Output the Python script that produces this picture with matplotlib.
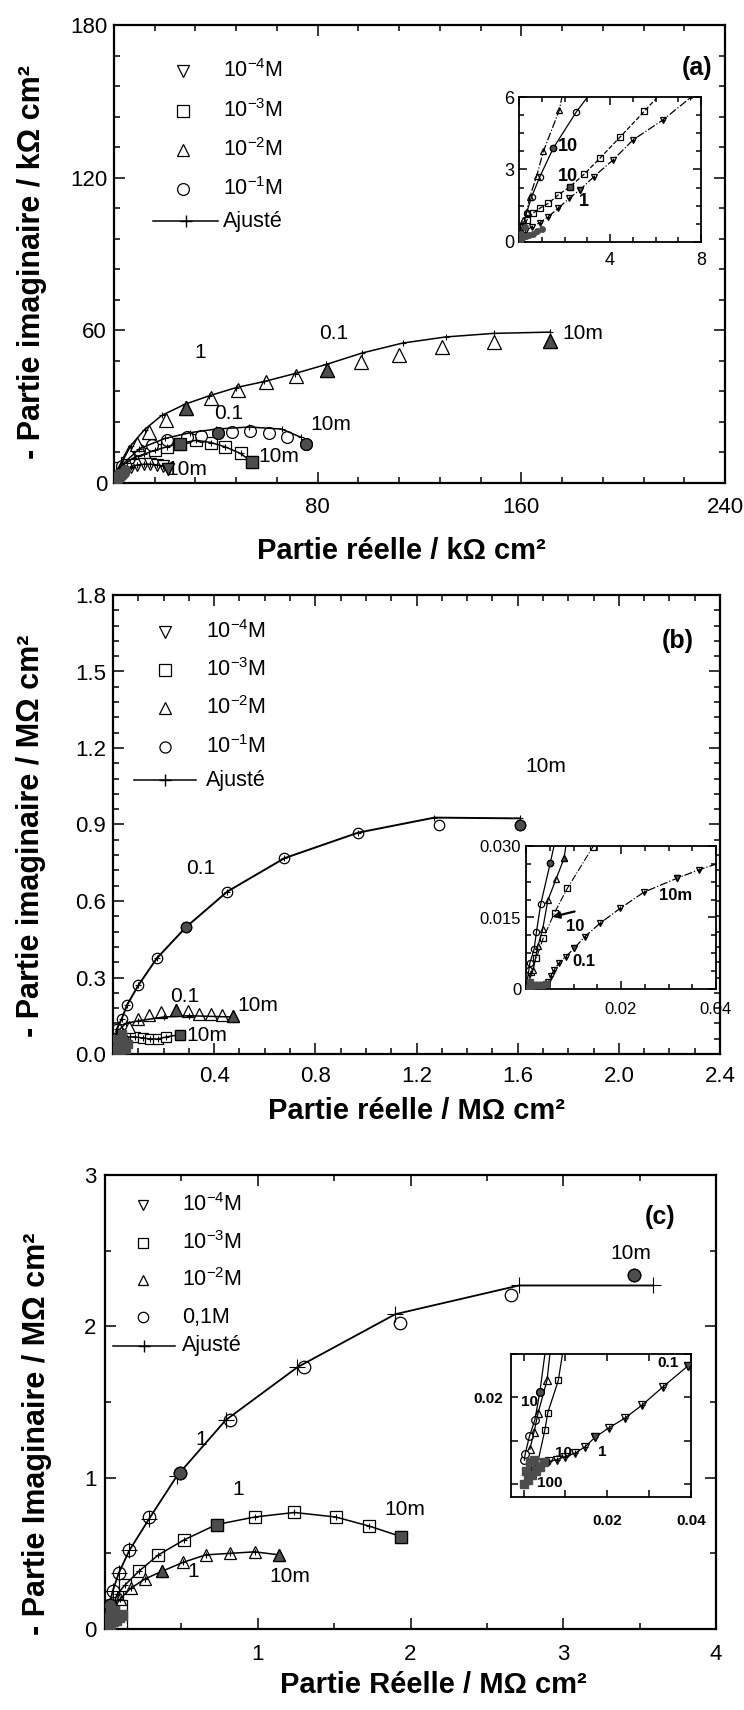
import matplotlib.pyplot as plt
import matplotlib.lines as mlines
import matplotlib.patches as patches
from matplotlib.ticker import MultipleLocator, FixedLocator

plt.rcParams['font.family'] = ['Liberation Sans', 'DejaVu Sans']
plt.rcParams['mathtext.default'] = 'regular'

W, H = 744, 1710
DARK = '0.3'

legend_labels = ['10$^{-4}$M', '10$^{-3}$M', '10$^{-2}$M', '10$^{-1}$M', 'Ajusté']
legend_labels_c = ['10$^{-4}$M', '10$^{-3}$M', '10$^{-2}$M', '0,1M', 'Ajusté']

# ---------------- panel (a) : kOhm cm2 ----------------
a_tri_x = [0.8, 2.7, 4.6, 5.9, 9.2, 13.7, 20.4, 28.2, 38.1, 48.8, 59.8, 71.4, 83.5, 97.2, 111.9, 128.7, 149.4, 171.2]
a_tri_y = [2.8, 6.0, 8.7, 12.0, 15.3, 19.9, 24.7, 29.5, 33.3, 36.6, 39.6, 42.2, 44.6, 47.5, 50.4, 53.5, 55.5, 56.0]
a_tri_filled = [7, 12, 17]
a_tri_fit_x = [0, 2, 6.6, 12, 18.8, 28, 37.5, 48, 59.1, 71, 83.4, 97.5, 113.4, 130.3, 149.1, 171.2]
a_tri_fit_y = [0, 6, 14.7, 21, 26.6, 31, 34.3, 37.5, 39.9, 43, 46.6, 51.1, 55.0, 57.4, 58.8, 59.3]

a_cir_x = [1.0, 3.0, 6.0, 10.0, 15.0, 21.0, 28.5, 34.3, 40.7, 46.5, 53.6, 60.7, 67.8, 75.5]
a_cir_y = [2.5, 6.5, 10.0, 12.8, 15.0, 16.8, 17.9, 18.6, 19.5, 20.1, 20.3, 19.5, 17.9, 15.3]
a_cir_filled = [8, 13]
a_cir_fit_x = [0, 3, 10, 20, 30, 40.1, 53, 65.9, 73.6]
a_cir_fit_y = [0, 7, 13.5, 17.5, 19.8, 21.2, 22.0, 21.2, 17.9]

a_sq_x = [2.1, 5.0, 7.9, 11.7, 16.2, 20.7, 25.9, 32.3, 38.1, 43.7, 49.7, 54.2]
a_sq_y = [6.0, 8.0, 10.0, 11.3, 12.9, 14.2, 15.5, 16.8, 15.9, 14.2, 11.6, 8.3]
a_sq_filled = [6, 11]

a_dtri_x = [1.4, 4.0, 6.6, 9.2, 11.8, 14.3, 16.9, 19.4, 21.4]
a_dtri_y = [2.1, 4.7, 6.4, 7.1, 7.4, 7.4, 7.1, 6.7, 5.4]
a_dtri_filled = [8]

a_dark_x = [0.3, 0.8, 1.5, 2.2, 3.0, 3.8, 0.5, 1.2, 2.0, 4.5]
a_dark_y = [0.2, 0.8, 1.5, 2.5, 3.2, 4.0, 1.0, 2.0, 3.5, 5.0]

# inset (a)
ai_tri_x = [0.19, 0.34, 0.48, 0.78, 1.07, 1.77]
ai_tri_y = [0.91, 1.26, 1.88, 2.74, 3.75, 5.45]
ai_tri_fit_x = [0, 0.19, 0.34, 0.48, 0.78, 1.07, 1.77, 1.88]
ai_tri_fit_y = [0, 0.91, 1.26, 1.88, 2.74, 3.75, 5.45, 5.96]
ai_cir_x = [0.33, 0.55, 0.92, 1.51, 2.51]
ai_cir_y = [1.2, 1.86, 2.71, 3.89, 5.37]
ai_cir_filled = [3]
ai_cir_fit_x = [0, 0.33, 0.55, 0.92, 1.51, 2.51, 2.98]
ai_cir_fit_y = [0, 1.2, 1.86, 2.71, 3.89, 5.37, 5.96]
ai_sq_x = [0.18, 0.34, 0.63, 0.92, 1.29, 1.73, 2.24, 2.87, 3.56, 4.44, 5.51]
ai_sq_y = [0.6, 0.9, 1.2, 1.4, 1.6, 1.95, 2.29, 2.81, 3.47, 4.34, 5.41]
ai_sq_filled = [6]
ai_sq_fit_x = [0] + ai_sq_x + [6.05]
ai_sq_fit_y = [0] + ai_sq_y + [5.96]
ai_dtri_x = [0.26, 0.55, 0.92, 1.29, 1.73, 2.21, 2.68, 3.30, 4.14, 5.02, 6.34]
ai_dtri_y = [0.42, 0.63, 0.80, 1.05, 1.40, 1.81, 2.16, 2.71, 3.40, 4.23, 5.06]
ai_dtri_filled = [6]
ai_dtri_fit_x = [0] + ai_dtri_x + [7.52]
ai_dtri_fit_y = [0] + ai_dtri_y + [5.96]
ai_dark_x = [0.05, 0.15, 0.3, 0.45, 0.6, 0.8, 1.0, 0.1, 0.25]
ai_dark_y = [0.05, 0.15, 0.25, 0.3, 0.35, 0.45, 0.55, 0.35, 0.6]

# ---------------- panel (b) : MOhm cm2 ----------------
b_cir_x = [0.015, 0.034, 0.056, 0.100, 0.173, 0.288, 0.452, 0.678, 0.969, 1.289, 1.609]
b_cir_y = [0.098, 0.137, 0.193, 0.269, 0.375, 0.497, 0.637, 0.768, 0.868, 0.899, 0.899]
b_cir_filled = [5, 10]
b_cir_fit_x = [0.0, 0.015, 0.034, 0.056, 0.100, 0.173, 0.288, 0.452, 0.678, 0.969, 1.271, 1.609]
b_cir_fit_y = [0.0, 0.098, 0.137, 0.193, 0.269, 0.375, 0.497, 0.637, 0.768, 0.868, 0.927, 0.924]

b_tri_x = [0.02, 0.04, 0.064, 0.099, 0.143, 0.191, 0.248, 0.296, 0.342, 0.387, 0.430, 0.473]
b_tri_y = [0.04, 0.08, 0.106, 0.136, 0.152, 0.165, 0.171, 0.167, 0.158, 0.155, 0.152, 0.149]
b_tri_filled = [6, 11]
b_tri_fit_x = [0, 0.02, 0.05, 0.1, 0.2, 0.3, 0.48]
b_tri_fit_y = [0, 0.09, 0.12, 0.13, 0.145, 0.15, 0.145]

b_sq_x = [0.008, 0.027, 0.053, 0.086, 0.119, 0.145, 0.178, 0.211, 0.264]
b_sq_y = [0.067, 0.063, 0.067, 0.067, 0.063, 0.059, 0.059, 0.067, 0.076]
b_sq_filled = [8]

b_dtri_x = [0.002, 0.006, 0.012, 0.02]
b_dtri_y = [0.002, 0.004, 0.007, 0.012]
b_dark_x = [0.005, 0.01, 0.02, 0.03, 0.04, 0.05, 0.06, 0.015, 0.035]
b_dark_y = [0.01, 0.02, 0.03, 0.015, 0.05, 0.02, 0.04, 0.06, 0.08]

# inset (b)
bi_dtri_x = [0.0005, 0.0015, 0.0025, 0.0035, 0.0045, 0.0047, 0.0052, 0.0059, 0.0069, 0.0084, 0.0101,
             0.0124, 0.0156, 0.0198, 0.0248, 0.0317, 0.0364]
bi_dtri_y = [0.0008, 0.0008, 0.0008, 0.0008, 0.0009, 0.0015, 0.0027, 0.0040, 0.0054, 0.0068, 0.0085,
             0.0110, 0.0138, 0.0169, 0.0203, 0.0232, 0.0250]
bi_dtri_filled = [10, 15]
bi_dtri_fit_x = bi_dtri_x + [0.040]
bi_dtri_fit_y = bi_dtri_y + [0.0262]
bi_cir_x = [0.0006, 0.0008, 0.0017, 0.0022, 0.0031, 0.0051]
bi_cir_y = [0.004, 0.0054, 0.0083, 0.012, 0.0178, 0.0264]
bi_cir_filled = [5]
bi_cir_fit_x = [0] + bi_cir_x + [0.0059]
bi_cir_fit_y = [0] + bi_cir_y + [0.030]
bi_tri_x = [0.0015, 0.0025, 0.0035, 0.0046, 0.0063, 0.0080]
bi_tri_y = [0.004, 0.009, 0.0125, 0.0186, 0.023, 0.0274]
bi_tri_filled = [5]
bi_tri_fit_x = [0] + bi_tri_x + [0.0084]
bi_tri_fit_y = [0] + bi_tri_y + [0.030]
bi_sq_x = [0.0010, 0.0022, 0.0036, 0.0060, 0.0087, 0.0140]
bi_sq_y = [0.0035, 0.0065, 0.0106, 0.016, 0.0211, 0.0297]
bi_sq_fit_x = [0] + bi_sq_x + [0.0142]
bi_sq_fit_y = [0] + bi_sq_y + [0.030]
bi_dark_x = [0.0003, 0.001, 0.0018, 0.0026, 0.0034, 0.0042, 0.0008]
bi_dark_y = [0.0003, 0.0007, 0.0008, 0.0008, 0.0009, 0.0010, 0.0015]

# ---------------- panel (c) : MOhm cm2 ----------------
c_cir_x = [0.03, 0.05, 0.09, 0.16, 0.29, 0.49, 0.82, 1.30, 1.93, 2.66, 3.46]
c_cir_y = [0.16, 0.25, 0.37, 0.52, 0.74, 1.03, 1.38, 1.73, 2.02, 2.21, 2.34]
c_cir_filled = [0, 5, 10]
c_cir_fit_x = [0, 0.03, 0.05, 0.09, 0.16, 0.29, 0.47, 0.79, 1.26, 1.90, 2.71, 3.59]
c_cir_fit_y = [0, 0.16, 0.25, 0.37, 0.52, 0.73, 1.01, 1.38, 1.73, 2.08, 2.27, 2.27]

c_sq_x = [0.05, 0.08, 0.13, 0.22, 0.35, 0.52, 0.73, 0.98, 1.24, 1.51, 1.73, 1.94]
c_sq_y = [0.14, 0.23, 0.29, 0.38, 0.49, 0.59, 0.69, 0.74, 0.77, 0.74, 0.68, 0.61]
c_sq_filled = [6, 11]

c_tri_x = [0.06, 0.10, 0.17, 0.26, 0.37, 0.51, 0.66, 0.82, 0.98, 1.14]
c_tri_y = [0.14, 0.20, 0.27, 0.33, 0.38, 0.44, 0.49, 0.50, 0.51, 0.49]
c_tri_filled = [4, 9]

c_dark_x = [0.01, 0.03, 0.05, 0.07, 0.09, 0.02, 0.04, 0.06, 0.11]
c_dark_y = [0.01, 0.03, 0.05, 0.06, 0.08, 0.07, 0.10, 0.12, 0.09]

# inset (c)
ci_dtri_x = [0.002, 0.004, 0.006, 0.0079, 0.0099, 0.0123, 0.0147, 0.0171, 0.0203, 0.0242, 0.0283, 0.0334, 0.0392]
ci_dtri_y = [0.0045, 0.0048, 0.0052, 0.0056, 0.0063, 0.0071, 0.0086, 0.0108, 0.0129, 0.0152, 0.0182, 0.0225, 0.0272]
ci_dtri_filled = [7, 12]
ci_cir_x = [0.0002, 0.0004, 0.0014, 0.0027, 0.0039]
ci_cir_y = [0.0055, 0.007, 0.011, 0.0148, 0.0213]
ci_cir_filled = [4]
ci_cir_fit_x = ci_cir_x + [0.0051]
ci_cir_fit_y = ci_cir_y + [0.030]
ci_tri_x = [0.0015, 0.0025, 0.0035, 0.0056]
ci_tri_y = [0.008, 0.012, 0.0165, 0.0239]
ci_tri_fit_x = ci_tri_x + [0.0063]
ci_tri_fit_y = ci_tri_y + [0.030]
ci_sq_x = [0.0025, 0.0034, 0.0051, 0.0058, 0.0083]
ci_sq_y = [0.003, 0.005, 0.0125, 0.0165, 0.0239]
ci_sq_fit_x = ci_sq_x + [0.0093]
ci_sq_fit_y = ci_sq_y + [0.030]
ci_dark_x = [0.0, 0.001, 0.002, 0.003, 0.004, 0.005, 0.0005, 0.0015, 0.0025]
ci_dark_y = [0.0, 0.001, 0.002, 0.003, 0.004, 0.005, 0.003, 0.005, 0.0055]


def fpx(x, y):
    # figure pixel (from top-left) -> figure fraction
    return x / W, 1 - y / H


def series(ax, x, y, marker, ms, filled=(), fit_x=None, fit_y=None, ls='-', fit_ms=6, lw=1.1):
    ax.plot(x, y, ls='none', marker=marker, ms=ms, mfc='white', mec='k', mew=0.9, zorder=2)
    if fit_x is not None:
        ax.plot(fit_x, fit_y, color='k', lw=lw, ls=ls, marker='+', ms=fit_ms, mew=0.8, zorder=3)
    if filled:
        ax.plot([x[i] for i in filled], [y[i] for i in filled], ls='none', marker=marker, ms=ms,
                mfc=DARK, mec='k', mew=0.9, zorder=4)


def dark(ax, x, y, marker, ms):
    ax.plot(x, y, ls='none', marker=marker, ms=ms, mfc=DARK, mec=DARK, zorder=4)


def style(ax, xmaj, xmin, ymaj, ymin, size=16, lw=1.6, maj=8, mino=4.5, xpad=3.5, ypad=3.5):
    ax.xaxis.set_major_locator(xmaj)
    ax.xaxis.set_minor_locator(MultipleLocator(xmin))
    ax.yaxis.set_major_locator(ymaj)
    ax.yaxis.set_minor_locator(MultipleLocator(ymin))
    ax.tick_params(which='both', direction='in', top=True, right=True, labelsize=size, width=1.1)
    ax.tick_params(which='major', length=maj)
    ax.tick_params(which='minor', length=mino)
    ax.tick_params(axis='x', pad=xpad)
    ax.tick_params(axis='y', pad=ypad)
    for s in ax.spines.values():
        s.set_linewidth(lw)


def legend(fig, rows_y, mark_x, text_x, aj_y, line_x0, line_x1, markers, labels, ms):
    for yy, m, lab in zip(rows_y, markers, labels[:4]):
        mx, my = fpx(mark_x, yy)
        fig.add_artist(mlines.Line2D([mx], [my], marker=m, ms=ms, mfc='white', mec='k', mew=0.9,
                                     ls='none', transform=fig.transFigure))
        tx, ty = fpx(text_x, yy)
        fig.text(tx, ty, lab, fontsize=15.5, va='center', ha='left')
    x0, yl = fpx(line_x0, aj_y)
    x1, _ = fpx(line_x1, aj_y)
    xm = (x0 + x1) / 2
    fig.add_artist(mlines.Line2D([x0, x1], [yl, yl], color='k', lw=1.1, transform=fig.transFigure))
    fig.add_artist(mlines.Line2D([xm], [yl], marker='+', ms=8, mew=1, color='k', transform=fig.transFigure))
    tx, ty = fpx(text_x, aj_y)
    fig.text(tx, ty, labels[4], fontsize=15.5, va='center', ha='left')


YLAB = 22
XLAB = 21

fig = plt.figure(figsize=(W / 100, H / 100), dpi=100)

# ================= (a) =================
ax = fig.add_axes([114 / W, 1 - 483 / H, 611 / W, 458 / H])
series(ax, a_sq_x, a_sq_y, 's', 8.5, a_sq_filled, a_sq_x, a_sq_y, fit_ms=4)
series(ax, a_dtri_x, a_dtri_y, 'v', 8.5, a_dtri_filled, a_dtri_x, a_dtri_y, fit_ms=4)
series(ax, a_cir_x, a_cir_y, 'o', 8.5, a_cir_filled, a_cir_fit_x, a_cir_fit_y, fit_ms=4)
series(ax, a_tri_x, a_tri_y, '^', 10, a_tri_filled, a_tri_fit_x, a_tri_fit_y, fit_ms=5)
dark(ax, a_dark_x, a_dark_y, 'o', 7)
ax.set_xlim(0, 240)
ax.set_ylim(0, 180)
style(ax, FixedLocator([0, 80, 160, 240]), 16, MultipleLocator(60), 12, xpad=10, ypad=5)
ax.set_xticklabels(['', '80', '160', '240'])
ax.text(33.8, 51.1, '1', fontsize=15, ha='center', va='center')
ax.text(86.3, 58.8, '0.1', fontsize=15, ha='center', va='center')
ax.text(176, 58.8, '10m', fontsize=15, ha='left', va='center')
ax.text(45, 27.3, '0.1', fontsize=15, ha='center', va='center')
ax.text(77, 23.1, '10m', fontsize=15, ha='left', va='center')
ax.text(56.8, 10.5, '10m', fontsize=15, ha='left', va='center')
ax.text(20.6, 5.2, '10m', fontsize=15, ha='left', va='center')
ax.set_ylabel('- Partie imaginaire / kΩ cm²', fontsize=YLAB, fontweight='bold')
ax.yaxis.set_label_coords(-0.11, 0.483)
ax.set_xlabel('Partie réelle / kΩ cm²', fontsize=XLAB, fontweight='bold')
ax.xaxis.set_label_coords(0.47, -0.118)
fig.text(*fpx(697, 68), '(a)', fontsize=18, fontweight='bold', ha='center', va='center')
legend(fig, [71, 111, 150, 189], 183, 223, 221, 153, 218, ['v', 's', '^', 'o'], legend_labels, 8.5)

axi = fig.add_axes([519 / W, 1 - 242 / H, 182 / W, 145 / H])
series(axi, ai_sq_x, ai_sq_y, 's', 4.5, ai_sq_filled, ai_sq_fit_x, ai_sq_fit_y, ls='--', fit_ms=0, lw=0.9)
series(axi, ai_dtri_x, ai_dtri_y, 'v', 5, ai_dtri_filled, ai_dtri_fit_x, ai_dtri_fit_y, ls='-.', fit_ms=3, lw=0.9)
series(axi, ai_cir_x, ai_cir_y, 'o', 4.5, ai_cir_filled, ai_cir_fit_x, ai_cir_fit_y, fit_ms=0, lw=0.9)
series(axi, ai_tri_x, ai_tri_y, '^', 5, (), ai_tri_fit_x, ai_tri_fit_y, ls='-.', fit_ms=0, lw=0.9)
dark(axi, ai_dark_x, ai_dark_y, 'o', 4)
axi.set_xlim(0, 8)
axi.set_ylim(0, 6)
style(axi, FixedLocator([0, 4, 8]), 1, MultipleLocator(3), 0.75, size=13, lw=1.3, maj=6, mino=3.5, xpad=7)
axi.set_xticklabels(['', '4', '8'])
axi.text(1.71, 3.96, '10', fontsize=13, fontweight='bold', ha='left', va='center')
axi.text(1.71, 2.72, '10', fontsize=13, fontweight='bold', ha='left', va='center')
axi.text(2.87, 1.67, '1', fontsize=13, fontweight='bold', ha='center', va='center')

# ================= (b) =================
ax = fig.add_axes([113 / W, 1 - 1054 / H, 607 / W, 459 / H])
series(ax, b_sq_x, b_sq_y, 's', 7, b_sq_filled, b_sq_x, b_sq_y, fit_ms=4)
series(ax, b_tri_x, b_tri_y, '^', 8.5, b_tri_filled, b_tri_fit_x, b_tri_fit_y, fit_ms=4)
series(ax, b_dtri_x, b_dtri_y, 'v', 8, (), None, None)
series(ax, b_cir_x, b_cir_y, 'o', 7.5, b_cir_filled, b_cir_fit_x, b_cir_fit_y, fit_ms=4, lw=1.4)
dark(ax, b_dark_x, b_dark_y, 's', 6)
ax.set_xlim(0, 2.4)
ax.set_ylim(0, 1.8)
style(ax, FixedLocator([0.4, 0.8, 1.2, 1.6, 2.0, 2.4]), 0.1, MultipleLocator(0.3), 0.06, xpad=9, ypad=5)
ax.set_xticklabels(['0.4', '0.8', '1.2', '1.6', '2.0', '2.4'])
ax.set_yticks([0, 0.3, 0.6, 0.9, 1.2, 1.5, 1.8])
ax.set_yticklabels(['0.0', '0.3', '0.6', '0.9', '1.2', '1.5', '1.8'])
ax.text(1.713, 1.128, '10m', fontsize=15, ha='center', va='center')
ax.text(0.348, 0.728, '0.1', fontsize=15, ha='center', va='center')
ax.text(0.282, 0.224, '0.1', fontsize=15, ha='center', va='center')
ax.text(0.49, 0.189, '10m', fontsize=15, ha='left', va='center')
ax.text(0.292, 0.073, '10m', fontsize=15, ha='left', va='center')
ax.set_ylabel('- Partie imaginaire / MΩ cm²', fontsize=YLAB, fontweight='bold')
ax.yaxis.set_label_coords(-0.11, 0.475)
ax.set_xlabel('Partie réelle / MΩ cm²', fontsize=XLAB, fontweight='bold')
ax.xaxis.set_label_coords(0.5, -0.094)
fig.text(*fpx(678, 641), '(b)', fontsize=18, fontweight='bold', ha='center', va='center')
legend(fig, [632, 670, 708, 747], 165, 206, 780, 134, 196, ['v', 's', '^', 'o'], legend_labels, 8)

axi = fig.add_axes([526 / W, 1 - 989 / H, 190 / W, 143 / H])
series(axi, bi_sq_x, bi_sq_y, 's', 4, (), bi_sq_fit_x, bi_sq_fit_y, ls='-.', fit_ms=0, lw=0.8)
series(axi, bi_dtri_x, bi_dtri_y, 'v', 5, bi_dtri_filled, bi_dtri_fit_x, bi_dtri_fit_y, ls='-.', fit_ms=3, lw=0.9)
series(axi, bi_cir_x, bi_cir_y, 'o', 4.5, bi_cir_filled, bi_cir_fit_x, bi_cir_fit_y, fit_ms=0, lw=0.9)
series(axi, bi_tri_x, bi_tri_y, '^', 5, bi_tri_filled, bi_tri_fit_x, bi_tri_fit_y, fit_ms=0, lw=0.9)
dark(axi, bi_dark_x, bi_dark_y, 's', 4)
axi.annotate('', xy=(0.0050, 0.0150), xytext=(0.0108, 0.0164),
             arrowprops=dict(arrowstyle='-|>', color='k', lw=1.6, mutation_scale=10))
axi.set_xlim(0, 0.04)
axi.set_ylim(0, 0.030)
style(axi, FixedLocator([0, 0.02, 0.04]), 0.005, FixedLocator([0, 0.015, 0.030]), 0.00375,
      size=12, lw=1.3, maj=6, mino=3.5, xpad=9)
axi.set_xticklabels(['', '0.02', '0.04'])
axi.set_yticklabels(['0', '0.015', '0.030'])
axi.text(0.0315, 0.0197, '10m', fontsize=12, fontweight='bold', ha='center', va='center')
axi.text(0.0103, 0.0131, '10', fontsize=12, fontweight='bold', ha='center', va='center')
axi.text(0.0122, 0.0057, '0.1', fontsize=12, fontweight='bold', ha='center', va='center')

# ================= (c) =================
ax = fig.add_axes([105 / W, 1 - 1629 / H, 611 / W, 454 / H])
series(ax, c_sq_x, c_sq_y, 's', 8, c_sq_filled, c_sq_x, c_sq_y, fit_ms=5)
series(ax, c_tri_x, c_tri_y, '^', 9, c_tri_filled, c_tri_x, c_tri_y, fit_ms=5)
series(ax, c_cir_x, c_cir_y, 'o', 9, c_cir_filled, c_cir_fit_x, c_cir_fit_y, fit_ms=11, lw=1.3)
dark(ax, c_dark_x, c_dark_y, 's', 7)
ax.add_patch(patches.Rectangle((0, 0), 0.145, 0.19, fill=False, ec='k', lw=0.9, zorder=3))
ax.set_xlim(0, 4)
ax.set_ylim(0, 3)
style(ax, FixedLocator([0, 1, 2, 3, 4]), 0.5, MultipleLocator(1), 0.5, xpad=11, ypad=6)
ax.set_xticklabels(['', '1', '2', '3', '4'])
ax.text(0.63, 1.25, '1', fontsize=15, ha='center', va='center')
ax.text(3.44, 2.48, '10m', fontsize=15, ha='center', va='center')
ax.text(0.87, 0.92, '1', fontsize=15, ha='center', va='center')
ax.text(1.96, 0.79, '10m', fontsize=15, ha='center', va='center')
ax.text(0.58, 0.38, '1', fontsize=15, ha='center', va='center')
ax.text(1.21, 0.35, '10m', fontsize=15, ha='center', va='center')
ax.set_ylabel('- Partie Imaginaire / MΩ cm²', fontsize=YLAB, fontweight='bold')
ax.yaxis.set_label_coords(-0.087, 0.43)
ax.set_xlabel('Partie Réelle / MΩ cm²', fontsize=XLAB, fontweight='bold')
ax.xaxis.set_label_coords(0.537, -0.092)
fig.text(*fpx(660, 1217), '(c)', fontsize=18, fontweight='bold', ha='center', va='center')
legend(fig, [1205, 1243, 1280, 1317], 143, 182, 1346, 113, 175, ['v', 's', '^', 'o'], legend_labels_c, 7.5)

axi = fig.add_axes([511 / W, 1 - 1497 / H, 180 / W, 143 / H])
series(axi, ci_sq_x, ci_sq_y, 's', 5, (), ci_sq_fit_x, ci_sq_fit_y, fit_ms=0, lw=0.9)
series(axi, ci_tri_x, ci_tri_y, '^', 6, (), ci_tri_fit_x, ci_tri_fit_y, fit_ms=0, lw=0.9)
series(axi, ci_cir_x, ci_cir_y, 'o', 5.5, ci_cir_filled, ci_cir_fit_x, ci_cir_fit_y, fit_ms=0, lw=0.9)
series(axi, ci_dtri_x, ci_dtri_y, 'v', 6, ci_dtri_filled, ci_dtri_x, ci_dtri_y, fit_ms=4, lw=0.9)
dark(axi, ci_dark_x, ci_dark_y, 's', 6)
axi.set_xlim(-0.003, 0.040)
axi.set_ylim(-0.003, 0.030)
style(axi, FixedLocator([0, 0.01, 0.02, 0.03, 0.04]), 0.01, FixedLocator([0, 0.01, 0.02, 0.03]), 0.01,
      size=11, lw=1.3, maj=5, mino=5, xpad=12, ypad=6)
axi.set_xticklabels(['', '', '0.02', '', '0.04'], fontweight='bold')
axi.set_yticklabels(['', '', '0.02', ''], fontweight='bold')
axi.text(0.0344, 0.0279, '0.1', fontsize=11, fontweight='bold', ha='center', va='center')
axi.text(0.0187, 0.0075, '1', fontsize=11, fontweight='bold', ha='center', va='center')
axi.text(0.0095, 0.0071, '10', fontsize=11, fontweight='bold', ha='center', va='center')
axi.text(0.0063, 0.0002, '100', fontsize=11, fontweight='bold', ha='center', va='center')
axi.text(-0.0005, 0.019, '10', fontsize=11, fontweight='bold', ha='left', va='center')

fig.savefig('out.png', dpi=100)
